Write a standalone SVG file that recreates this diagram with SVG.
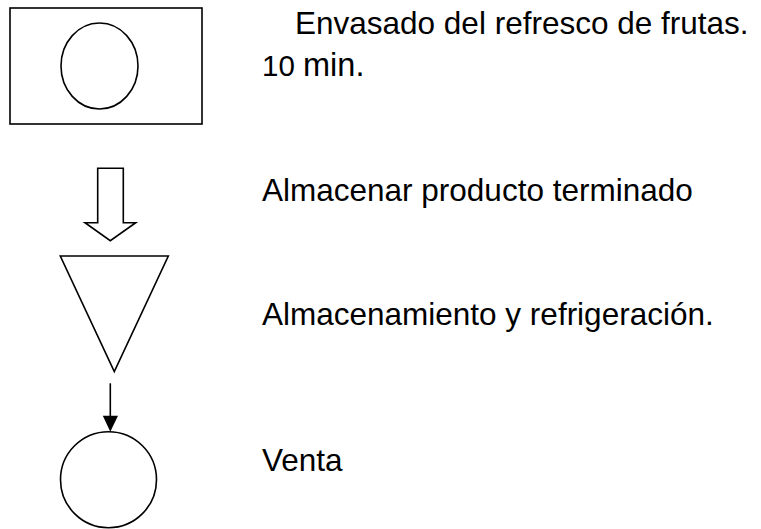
<svg xmlns="http://www.w3.org/2000/svg" width="761" height="529" viewBox="0 0 761 529">
<style>
.s{fill:#fff;stroke:#000;stroke-width:1.6}
.t{font-family:"Liberation Sans",Arial,sans-serif;font-size:31.5px;fill:#000}
.c{stroke:#000;stroke-width:1.6;fill:none}
</style>
<rect width="761" height="529" fill="#fff"/>
<g id="envasado">
<rect class="s" x="10" y="8" width="192" height="116"/>
<ellipse class="s" cx="99.5" cy="66" rx="38.5" ry="43"/>
<text class="t" x="295" y="34.3">Envasado del refresco de frutas.</text>
<text class="t" x="262" y="76"><tspan font-size="29.5">10 </tspan><tspan font-size="32.5">min.</tspan></text>
</g>
<g id="almacenar">
<polygon class="s" points="97.7,168.3 123.3,168.3 123.3,222.7 135.7,222.7 110.3,240.7 85,222.7 97.7,222.7"/>
<text class="t" x="262" y="201">Almacenar producto terminado</text>
</g>
<g id="almacenamiento">
<polygon class="s" points="60.3,256 168.3,256 114.3,371.7"/>
<text class="t" x="262" y="324.5">Almacenamiento y refrigeración.</text>
</g>
<g id="venta">
<circle class="s" cx="108.5" cy="479.7" r="48"/>
<text class="t" x="262" y="470.7">Venta</text>
</g>
<g id="connectors">
<line class="c" x1="110.3" y1="383.3" x2="110.3" y2="416"/>
<polygon points="102.8,415.7 118,415.7 110.3,431.7" fill="#000"/>
</g>
</svg>
